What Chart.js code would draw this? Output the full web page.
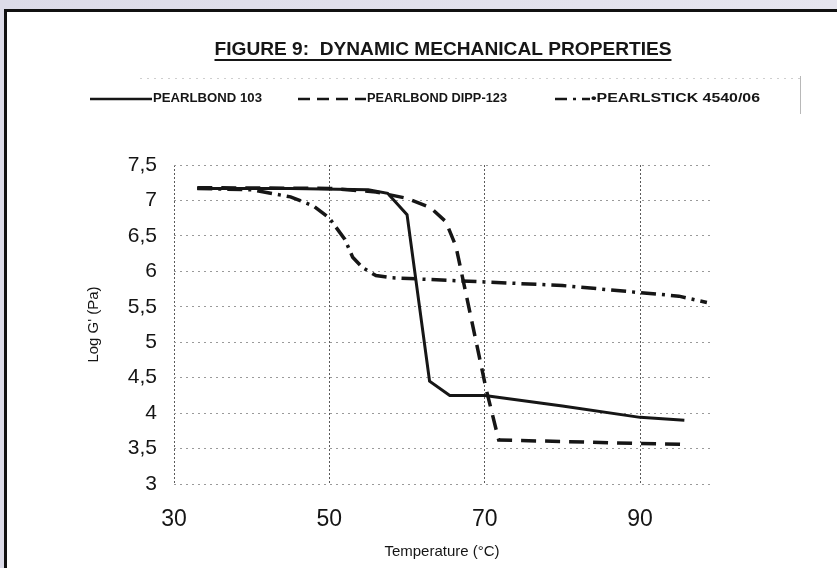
<!DOCTYPE html>
<html>
<head>
<meta charset="utf-8">
<script src="https://cdn.jsdelivr.net/npm/chart.js@4.4.1/dist/chart.umd.min.js"></script>
<style>
  html, body { margin: 0; padding: 0; }
  body {
    width: 837px; height: 568px; overflow: hidden; position: relative;
    background: linear-gradient(90deg, #dcdbe8, #e6e5ef);
  }
  #sheet {
    position: absolute; left: 4px; top: 9px; width: 850px; height: 580px;
    background: #fff; border-top: 3px solid #111; border-left: 3px solid #111;
  }
  #dma { position: absolute; left: 0; top: 0; }
</style>
</head>
<body>
<div id="sheet"></div>
<canvas id="dma" width="837" height="568"></canvas>
<script>
// Temperature (°C) and Log G' (Pa)
const seriesNames = ["PEARLBOND 103", "PEARLBOND DIPP-123", "PEARLSTICK 4540/06"];

const tempBond103 = [33, 45, 55, 57.5, 60, 62.9, 65.5, 70, 80, 90, 95.7];
const logBond103 = [7.17, 7.17, 7.15, 7.1, 6.8, 4.45, 4.25, 4.25, 4.1, 3.94, 3.9];

const tempDipp123 = [33, 50, 56, 60, 63, 65, 66.3, 70.2, 71.8, 80, 90, 95.7];
const logDipp123 = [7.18, 7.17, 7.12, 7.03, 6.9, 6.7, 6.35, 4.33, 3.62, 3.6, 3.57, 3.56];

const tempStick = [33, 40, 45, 48, 50, 52, 53, 54.3, 56, 58, 70, 80, 90, 95, 98.6];
const logStick = [7.17, 7.15, 7.05, 6.92, 6.75, 6.45, 6.2, 6.05, 5.94, 5.91, 5.85, 5.8, 5.7, 5.65, 5.56];

const xTicks = [30, 50, 70, 90];
const yTicks = [3, 3.5, 4, 4.5, 5, 5.5, 6, 6.5, 7, 7.5];

const ink = "#161616";
const dashes = [[], [15, 9], [15, 6, 3, 6]];

const toPoints = (xs, ys) => xs.map((x, i) => ({ x: x, y: ys[i] }));

const series = [
  toPoints(tempBond103, logBond103),
  toPoints(tempDipp123, logDipp123),
  toPoints(tempStick, logStick),
];

const sans = '"Liberation Sans", Arial, sans-serif';
const narrow = '"Liberation Sans Narrow", "Liberation Sans", Arial, sans-serif';

// scanned-look title and legend drawn above the plot
const headerPlugin = {
  id: "header",
  afterDraw(chart) {
    const ctx = chart.ctx;
    ctx.save();
    ctx.fillStyle = ink;
    ctx.strokeStyle = ink;

    // title, squeezed to the width it has in the scan
    const title = "FIGURE 9:  DYNAMIC MECHANICAL PROPERTIES";
    ctx.font = "bold 19px " + narrow;
    const tw = ctx.measureText(title).width;
    const target = 457;
    ctx.save();
    ctx.translate(443, 50);
    ctx.scale(target / tw, 1);
    ctx.textAlign = "center";
    ctx.textBaseline = "middle";
    ctx.fillText(title, 0, 0);
    ctx.restore();
    ctx.lineWidth = 2;
    ctx.beginPath();
    ctx.moveTo(443 - target / 2, 60);
    ctx.lineTo(443 + target / 2, 60);
    ctx.stroke();

    // faint legend frame
    ctx.strokeStyle = "#cfcfcf";
    ctx.lineWidth = 1;
    ctx.setLineDash([2, 5]);
    ctx.beginPath();
    ctx.moveTo(140, 78.5);
    ctx.lineTo(800, 78.5);
    ctx.stroke();
    ctx.setLineDash([]);
    ctx.strokeStyle = "#b8b8b8";
    ctx.beginPath();
    ctx.moveTo(800.5, 76);
    ctx.lineTo(800.5, 114);
    ctx.stroke();

    // legend items: line from x0 to x1, text from x1 to x2
    const items = [
      { x0: 90, x1: 152, x2: 262, label: seriesNames[0] },
      { x0: 298, x1: 366, x2: 507, label: seriesNames[1] },
      { x0: 555, x1: 590, x2: 760, label: "\u2022" + seriesNames[2] },
    ];
    const ly = 99;
    items.forEach((it, i) => {
      ctx.strokeStyle = ink;
      ctx.lineWidth = 2.5;
      ctx.setLineDash(i === 0 ? [] : (i === 1 ? [12, 7] : [12, 6, 3, 6]));
      ctx.beginPath();
      ctx.moveTo(it.x0, ly);
      ctx.lineTo(it.x1, ly);
      ctx.stroke();
      ctx.setLineDash([]);
      ctx.font = "bold 12px " + narrow;
      const w = ctx.measureText(it.label).width;
      ctx.save();
      ctx.translate(it.x1 + 1, ly);
      ctx.scale((it.x2 - it.x1 - 1) / w, 1);
      ctx.textAlign = "left";
      ctx.textBaseline = "middle";
      ctx.fillText(it.label, 0, 0);
      ctx.restore();
    });
    ctx.restore();
  },
};

new Chart(document.getElementById("dma"), {
  type: "line",
  data: {
    datasets: series.map((pts, i) => ({
      label: seriesNames[i],
      data: pts,
      borderColor: ink,
      borderWidth: i === 0 ? 3 : 3.5,
      borderDash: dashes[i],
      pointRadius: 0,
      tension: 0,
      fill: false,
    })),
  },
  options: {
    responsive: false,
    animation: false,
    layout: { padding: { left: 60, top: 165, right: 127, bottom: 4 } },
    scales: {
      x: {
        type: "linear",
        min: 30,
        max: 99,
        afterBuildTicks: (scale) => { scale.ticks = xTicks.map((v) => ({ value: v })); },
        afterFit: (scale) => { scale.height = 80; },
        border: { display: false, dash: [2, 2] },
        grid: { color: "#5a5a5a", lineWidth: 1, drawTicks: false },
        ticks: {
          padding: 22,
          color: "#151515",
          font: { family: sans, size: 23 },
        },
        title: {
          display: true,
          text: "Temperature (\u00b0C)",
          color: "#151515",
          padding: { top: 0, bottom: 3 },
          font: { family: sans, size: 15 },
        },
      },
      y: {
        min: 3,
        max: 7.5,
        afterBuildTicks: (scale) => { scale.ticks = yTicks.map((v) => ({ value: v })); },
        afterFit: (scale) => { scale.width = 114; },
        border: { display: false, dash: [2, 4] },
        grid: { color: "#9a9a9a", lineWidth: 1, drawTicks: false },
        ticks: {
          padding: 17,
          color: "#151515",
          font: { family: sans, size: 21 },
          callback: (v) => String(v).replace(".", ","),
        },
        title: {
          display: true,
          text: "Log G' (Pa)",
          color: "#151515",
          padding: { top: 25, bottom: 0 },
          font: { family: sans, size: 15 },
        },
      },
    },
    plugins: {
      legend: { display: false },
      tooltip: { enabled: false },
    },
  },
  plugins: [headerPlugin],
});
</script>
</body>
</html>
